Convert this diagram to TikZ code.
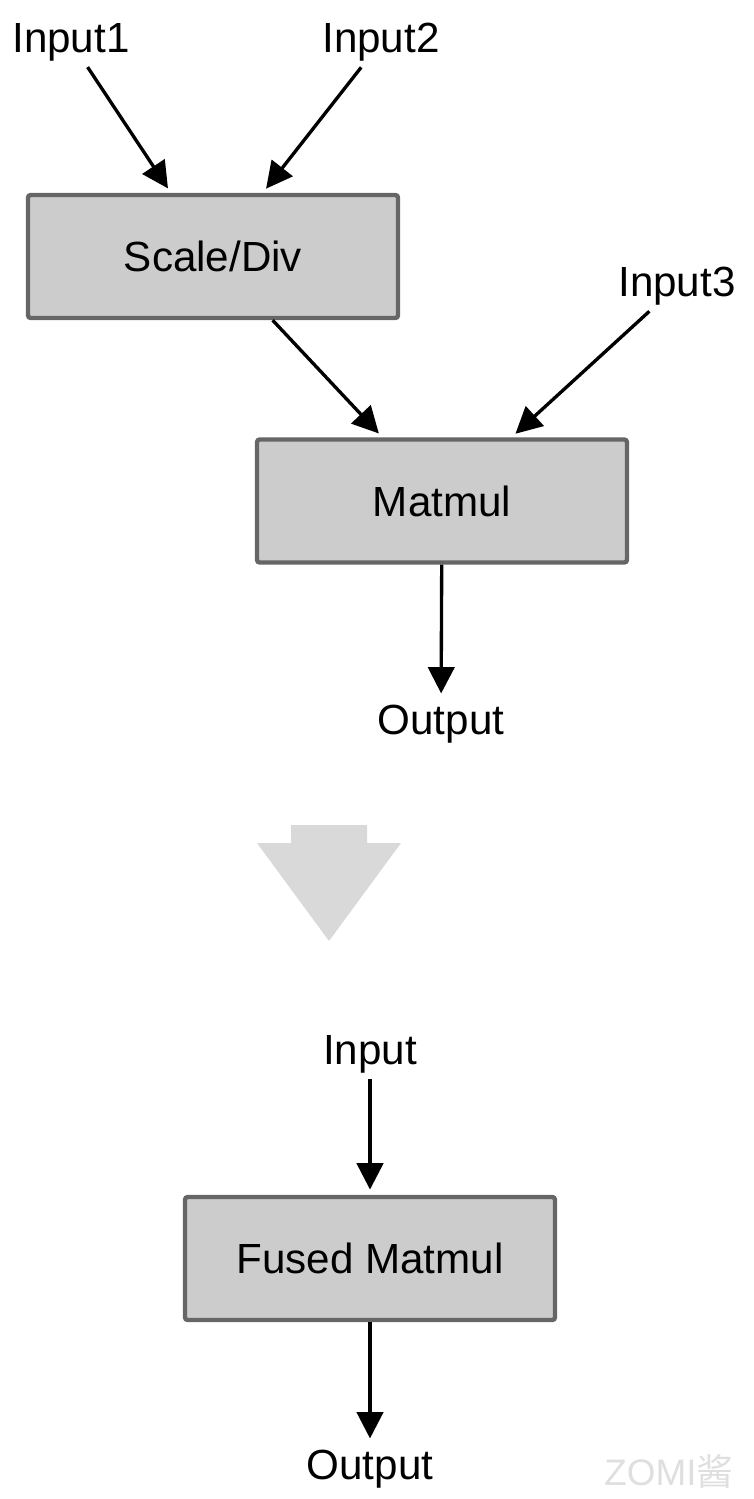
\documentclass[tikz,border=0pt]{standalone}
\usepackage{fontspec}
\setmainfont{Liberation Sans}
\newfontfamily\cjkfont{Noto Sans CJK SC}
\usetikzlibrary{arrows.meta}
\definecolor{boxfill}{HTML}{CCCCCC}
\definecolor{boxline}{HTML}{666666}
\definecolor{bigarrow}{HTML}{D9D9D9}

\begin{document}
\begin{tikzpicture}[x = 0.02cm, y = -0.02cm,
    op/.style = {draw = boxline, fill = boxfill, line width = 2.5pt, rounded corners = 1.5pt,
                 minimum width = 7.4cm, minimum height = 2.46cm, font = \fontsize{24}{28}\selectfont},
    lbl/.style = {font = \fontsize{24}{28}\selectfont},
    flow/.style = {-{Triangle[length = 15pt, width = 15pt]}, line width = 1.9pt, shorten > = 3pt}]
  \useasboundingbox (0, 0) rectangle (754, 1499);

  % before fusion
  \node [lbl] (in1) at (71, 42) {Input1};
  \node [lbl] (in2) at (381, 42) {Input2};
  \node [op] (scale) at (213, 256.5) {Scale/Div};
  \node [lbl] (in3) at (677, 286) {Input3};
  \node [op] (matmul) at (442, 501) {Matmul};
  \node [lbl] (out1) at (441, 724) {Output};

  \draw [flow] (in1) -- (scale);
  \draw [flow] (in2) -- (scale);
  \draw [flow] (scale) -- (matmul);
  \draw [flow] (in3) -- (matmul);
  \draw [flow] (matmul) -- (out1);

  % big arrow
  \fill [bigarrow] (291, 825) -- (367, 825) -- (367, 843) -- (401, 843) -- (329, 941)
    -- (257, 843) -- (291, 843) -- cycle;

  % after fusion
  \node [lbl] (in) at (370, 1054) {Input};
  \node [op] (fused) at (370, 1258.5) {Fused Matmul};
  \node [lbl] (out2) at (370, 1469) {Output};

  \draw [flow] (in) -- (fused);
  \draw [flow] (fused) -- (out2);

  \node [text = gray!25, font = \fontsize{21}{24}\selectfont] (mark) at (669, 1471) {ZOMI\cjkfont 酱};
\end{tikzpicture}
\end{document}
